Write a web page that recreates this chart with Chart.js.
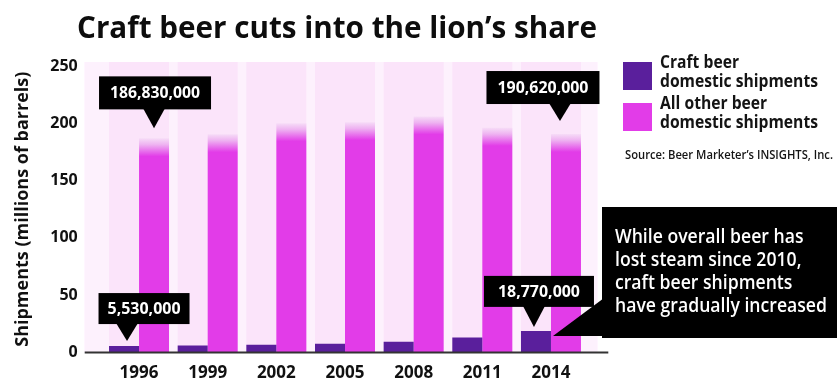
<!DOCTYPE html>
<html>
<head>
<meta charset="utf-8">
<title>Craft beer cuts into the lion's share</title>
<script src="https://cdn.jsdelivr.net/npm/chart.js@4.4.1/dist/chart.umd.min.js"></script>
<style>
  html, body { margin: 0; padding: 0; background: #ffffff; }
  #wrap { width: 839px; height: 389px; }
</style>
</head>
<body>
<div id="wrap"><canvas id="beerChart" width="839" height="389"></canvas></div>
<script>
// ---------------- data (millions of barrels) ----------------
const years = ['1996', '1999', '2002', '2005', '2008', '2011', '2014'];
const craftShipments = [5.53, 6.1, 6.6, 7.5, 9.2, 12.9, 18.77];
const otherShipments = [186.83, 190.5, 200, 201, 206, 196, 190.62];
const yTicks = [0, 50, 100, 150, 200, 250];

const seriesNames = [
  ['Craft beer', 'domestic shipments'],
  ['All other beer', 'domestic shipments']
];
const noteLines = [
  'While overall beer has',
  'lost steam since 2010,',
  'craft beer shipments',
  'have gradually increased'
];

const CRAFT = '#5a1f9c';
const OTHER = '#e23ce8';
const FONT = '"Open Sans", "Noto Sans", sans-serif';

// draw text squeezed horizontally so the condensed look fits its box
function squeezed(ctx, text, x, y, scale) {
  ctx.save();
  ctx.translate(x, y);
  ctx.scale(scale, 1);
  ctx.fillText(text, 0, 0);
  ctx.restore();
}
function scaleFor(ctx, lines, width) {
  let w = 0;
  lines.forEach(function(l) { w = Math.max(w, ctx.measureText(l).width); });
  return Math.min(1, width / w);
}
function fmt(v) {
  return Math.round(v * 1e6).toLocaleString('en-US');
}

// black value callout with a pointer to the top of a bar
function callout(chart, dsIndex, idx, o) {
  const ctx = chart.ctx;
  const bar = chart.getDatasetMeta(dsIndex).data[idx];
  const value = chart.data.datasets[dsIndex].data[idx];
  const tipX = bar.x + o.tipDx;
  const tipY = bar.y - o.lift;
  const boxBottom = tipY - o.stem;
  const cx = tipX + o.dx;
  ctx.save();
  ctx.fillStyle = '#000';
  ctx.fillRect(cx - o.w / 2, boxBottom - o.h, o.w, o.h);
  ctx.beginPath();
  ctx.moveTo(tipX - 11, boxBottom - 1);
  ctx.lineTo(tipX + 11, boxBottom - 1);
  ctx.lineTo(tipX, tipY);
  ctx.closePath();
  ctx.fill();
  ctx.fillStyle = '#fff';
  ctx.font = 'bold 16px ' + FONT;
  ctx.textAlign = 'left';
  ctx.textBaseline = 'middle';
  const label = fmt(value);
  const s = scaleFor(ctx, [label], o.tw);
  const w = ctx.measureText(label).width * s;
  squeezed(ctx, label, cx - w / 2, boxBottom - o.h / 2 + 1, s);
  ctx.restore();
}

const decorPlugin = {
  id: 'decor',
  beforeDatasetsDraw(chart) {
    const ctx = chart.ctx;
    const a = chart.chartArea;
    const zero = chart.scales.y.getPixelForValue(0);
    ctx.save();
    // pale pink plot panel
    ctx.fillStyle = '#fbe4fa';
    ctx.fillRect(a.left - 20, a.top - 4, a.right - a.left + 32, zero - a.top + 4);
    // lighter lanes between the year groups
    ctx.fillStyle = '#fdf1fd';
    const m0 = chart.getDatasetMeta(0).data;
    const m1 = chart.getDatasetMeta(1).data;
    for (let i = 0; i < m0.length; i++) {
      const l = i === 0 ? a.left - 20 : m1[i - 1].x + m1[i - 1].width / 2;
      const r = m0[i].x - m0[i].width / 2;
      ctx.fillRect(l, a.top - 4, r - l, zero - a.top + 4);
    }
    const last = m1[m1.length - 1];
    ctx.fillRect(last.x + last.width / 2, a.top - 4, a.right + 12 - last.x - last.width / 2, zero - a.top + 4);
    ctx.restore();
  },
  afterDatasetsDraw(chart) {
    const ctx = chart.ctx;
    const a = chart.chartArea;
    const zero = chart.scales.y.getPixelForValue(0);
    ctx.save();

    // baseline
    ctx.strokeStyle = '#333';
    ctx.lineWidth = 2;
    ctx.beginPath();
    ctx.moveTo(a.left - 20, zero);
    ctx.lineTo(a.right + 23, zero);
    ctx.stroke();

    // title
    ctx.fillStyle = '#0d0d0d';
    ctx.font = 'bold 31px ' + FONT;
    ctx.textBaseline = 'alphabetic';
    ctx.textAlign = 'left';
    const title = "Craft beer cuts into the lion\u2019s share";
    squeezed(ctx, title, 77, 38, scaleFor(ctx, [title], 520));

    // legend
    const sw = [CRAFT, OTHER];
    const swTop = [62, 103];
    ctx.font = 'bold 18px ' + FONT;
    const ls = scaleFor(ctx, ['domestic shipments'], 158);
    for (let i = 0; i < 2; i++) {
      ctx.fillStyle = sw[i];
      ctx.fillRect(623, swTop[i], 29, 28);
      ctx.fillStyle = '#141414';
      squeezed(ctx, seriesNames[i][0], 660, swTop[i] + 6, ls);
      squeezed(ctx, seriesNames[i][1], 660, swTop[i] + 25, ls);
    }

    // source line
    ctx.font = '600 13px ' + FONT;
    const src = "Source: Beer Marketer\u2019s INSIGHTS, Inc.";
    squeezed(ctx, src, 625, 159, scaleFor(ctx, [src], 208));

    // value callouts
    callout(chart, 1, 0, { tipDx: 0, lift: 10, stem: 19, dx: 1, w: 112, h: 33, tw: 90 });
    callout(chart, 1, 6, { tipDx: -6, lift: 13, stem: 17, dx: -17, w: 113, h: 33, tw: 91 });
    callout(chart, 0, 0, { tipDx: 3, lift: 5, stem: 17, dx: 17, w: 91, h: 31, tw: 73 });
    callout(chart, 0, 6, { tipDx: -2, lift: 4, stem: 20, dx: 5, w: 110, h: 31, tw: 82 });

    // note box pointing at the latest craft bar
    const cb = chart.getDatasetMeta(0).data[6];
    const tipX = cb.x + cb.width / 2 + 2;
    const tipY = cb.y + 5;
    ctx.fillStyle = '#000';
    ctx.fillRect(602, 207, 235, 131);
    ctx.beginPath();
    ctx.moveTo(tipX, tipY);
    ctx.lineTo(604, 298);
    ctx.lineTo(604, 336);
    ctx.closePath();
    ctx.fill();
    ctx.fillStyle = '#fff';
    ctx.font = '600 19px ' + FONT;
    const ns = scaleFor(ctx, noteLines, 212);
    noteLines.forEach(function(line, i) {
      squeezed(ctx, line, 615, 243 + i * 23, ns);
    });
    ctx.restore();
  }
};

new Chart(document.getElementById('beerChart').getContext('2d'), {
  type: 'bar',
  data: {
    labels: years,
    datasets: [
      {
        label: seriesNames[0].join(' '),
        data: craftShipments,
        backgroundColor: CRAFT,
        borderWidth: 0
      },
      {
        label: seriesNames[1].join(' '),
        data: otherShipments,
        // foamy head on top of each bar
        backgroundColor: function(context) {
          const chart = context.chart;
          if (!chart.chartArea || context.type !== 'data') return OTHER;
          const top = chart.scales.y.getPixelForValue(context.parsed.y);
          const g = chart.ctx.createLinearGradient(0, top, 0, top + 18);
          g.addColorStop(0, '#f6dcf7');
          g.addColorStop(0.35, '#eeb2f1');
          g.addColorStop(1, OTHER);
          return g;
        },
        borderWidth: 0
      }
    ]
  },
  options: {
    responsive: false,
    animation: false,
    devicePixelRatio: 1,
    layout: { padding: { top: 66, right: 253.7, bottom: 0, left: 0 } },
    datasets: { bar: { categoryPercentage: 0.874, barPercentage: 1.0 } },
    plugins: {
      legend: { display: false },
      tooltip: { enabled: false },
      title: { display: false }
    },
    scales: {
      x: {
        grid: { display: false, drawTicks: false },
        border: { display: false },
        ticks: { color: '#111', font: { family: FONT, size: 17, weight: 'bold' }, padding: 11 },
        afterFit: function(scale) { scale.height = 29.5; }
      },
      y: {
        min: 0,
        max: 250,
        afterBuildTicks: function(scale) {
          scale.ticks = yTicks.map(function(v) { return { value: v }; });
        },
        grid: { display: false, drawTicks: false },
        border: { display: false },
        ticks: { color: '#111', font: { family: FONT, size: 16, weight: 'bold' }, padding: 27 },
        title: {
          display: true,
          text: 'Shipments (millions of barrels)',
          color: '#111',
          font: { family: FONT, size: 18, weight: 'bold' },
          padding: { top: 12, bottom: 0 }
        },
        afterFit: function(scale) { scale.width = 104.7; }
      }
    }
  },
  plugins: [decorPlugin]
});
</script>
</body>
</html>
